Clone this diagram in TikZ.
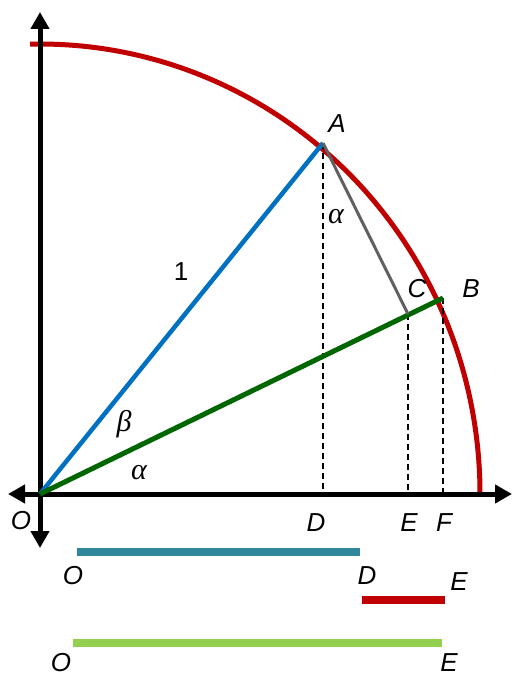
\documentclass[tikz,border=0pt]{standalone}
\usepackage{fontspec}
\setmainfont{Liberation Sans}
\newfontfamily\greekfont{Liberation Serif}
\usetikzlibrary{arrows.meta,positioning}
\definecolor{arcred}{RGB}{192,0,0}
\definecolor{radblue}{RGB}{0,112,192}
\definecolor{raygreen}{RGB}{0,102,0}
\definecolor{barteal}{RGB}{49,134,155}
\definecolor{barlime}{RGB}{146,208,80}
\definecolor{chordgray}{RGB}{96,96,96}

\begin{document}
\begin{tikzpicture}[
		x=1pt, y=-1pt,
		every node/.style={font=\fontsize{26}{30}\selectfont\itshape, inner sep=0pt},
		angle/.style={font=\fontsize{30}{34}\selectfont\greekfont\itshape},
		axis/.style={line width=5pt, {Triangle[length=17pt,width=18pt]}-{Triangle[length=17pt,width=18pt]}},
		drop/.style={line width=1.5pt, dash pattern=on 6pt off 4pt},
		bar/.style={line width=7.5pt}
		]
		
		\useasboundingbox (0,0) rectangle (513,677);
		
		% Points
		\coordinate (O) at (40,494);
		\coordinate (A) at (323,143);
		\coordinate (B) at (443,298);
		\coordinate (C) at (408,314);
		\coordinate (D) at (323,494);
		\coordinate (E) at (408,494);
		\coordinate (F) at (443,494);
		\coordinate (xl) at (8,494);
		\coordinate (xr) at (512,494);
		\coordinate (yt) at (40,12);
		\coordinate (yb) at (40,548);
		
		% Unit circle
		\draw[arcred, line width=5pt]
		(O) ++(-91.3:440 and 450) arc[start angle=-91.3, end angle=0, x radius=440, y radius=450];
		
		% Axes
		\draw[axis] (xl) -- (xr);
		\draw[axis] (yb) -- (yt);
		
		% Projections
		\draw[drop] (A) -- (D);
		\draw[drop] (C) -- (E);
		\draw[drop] (B) -- (F);
		
		% Rays
		\draw[radblue, line width=4.5pt] (O) -- (A);
		\draw[raygreen, line width=5pt] (O) -- (B);
		\draw[chordgray, line width=3pt] (A) -- (C);
		
		% Labels
		\node (lA) at (337,124) {A};
		\node (lB) at (471,289) {B};
		\node (lC) at (417,289) {C};
		\node (lO) at (21,521) {O};
		\node (lD) at (316,523) {D};
		\node (lE) at (409,523) {E};
		\node (lF) at (444,523) {F};
		\node[font=\fontsize{26}{30}\selectfont] (one) at (181,272) {1};
		\node[angle] (beta) at (124,424) {β};
		\node[angle] (alow) at (139,473) {α};
		\node[angle] (atop) at (336,217) {α};
		
		% Lengths
		\coordinate (od1) at (77,552);
		\coordinate (od2) at (360,552);
		\coordinate (de1) at (362,600);
		\coordinate (de2) at (445,600);
		\coordinate (oe1) at (73,643);
		\coordinate (oe2) at (442,643);
		\draw[bar, barteal] (od1) -- (od2);
		\draw[bar, arcred] (de1) -- (de2);
		\draw[bar, barlime] (oe1) -- (oe2);
		
		\node (odO) at (73,576) {O};
		\node (odD) at (367,576) {D};
		\node (deE) at (459,582) {E};
		\node (oeO) at (61,663) {O};
		\node (oeE) at (449,663) {E};
		
	\end{tikzpicture}
\end{document}
